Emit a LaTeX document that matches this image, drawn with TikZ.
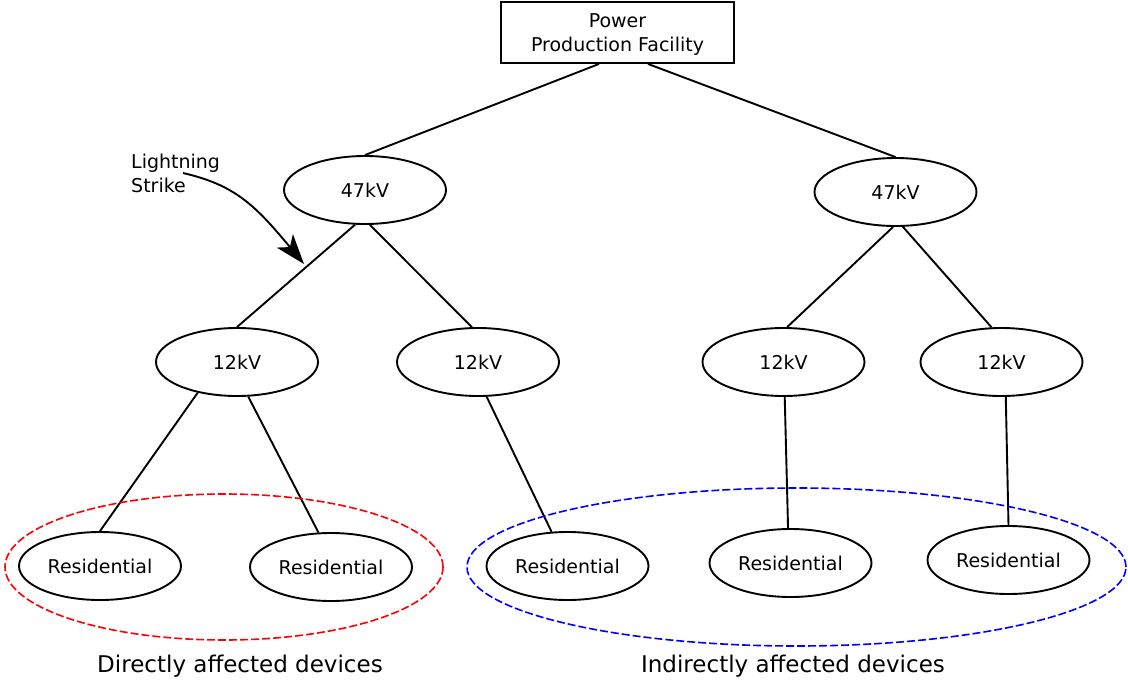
\documentclass[tikz,border=0pt]{standalone}
\usepackage{fontspec}
\setmainfont{DejaVu Sans}
\usetikzlibrary{shapes.geometric,arrows.meta}
\begin{document}
\begin{tikzpicture}[x=1pt,y=-1pt,
  font=\fontsize{19}{24}\selectfont,
  unit/.style={ellipse,draw,line width=1.9pt,minimum width=162pt,minimum height=68pt,inner sep=0pt},
  plant/.style={draw,line width=1.9pt,minimum width=233pt,minimum height=61pt,inner sep=0pt,align=center},
  link/.style={line width=1.9pt},
  group/.style={ellipse,draw,line width=1.6pt,dash pattern=on 8pt off 3pt,inner sep=0pt},
  caption/.style={font=\fontsize{23}{28}\selectfont,anchor=base}]
\useasboundingbox (0,0) rectangle (1128,681);

% generation and transmission
\node[plant] (top) at (617.5,32.5) {\rule{0pt}{17pt}Power\\Production Facility};
\node[unit] (hvL) at (365,190) {47kV};
\node[unit] (hvR) at (895.5,192) {47kV};

% distribution substations
\node[unit] (mvA) at (237,362) {12kV};
\node[unit] (mvB) at (478,362) {12kV};
\node[unit] (mvC) at (783.5,362) {12kV};
\node[unit] (mvD) at (1001.5,362) {12kV};

% customers
\node[unit] (r1) at (100,566) {Residential};
\node[unit] (r2) at (331,567) {Residential};
\node[unit] (r3) at (567.5,566) {Residential};
\node[unit] (r4) at (790.5,563) {Residential};
\node[unit] (r5) at (1008.5,560) {Residential};

% feeders
\draw[link] ([xshift=-18.5pt]top.south) -- (hvL.north);
\draw[link] ([xshift=30.5pt]top.south) -- (hvR.north);
\draw[link] (hvL.-106) -- (mvA.north);
\draw[link] (hvL.-82) -- (mvB.100);
\draw[link] (hvR.-94) -- (mvC.84);
\draw[link] (hvR.-78) -- (mvD.106);
\draw[link] (mvA.-142) -- (r1.north);
\draw[link] (mvA.-72) -- (r2.110);
\draw[link] (mvB.-76) -- (r3.115);
\draw[link] (mvC.-88) -- (r4.94);
\draw[link] (mvD.-83) -- (r5.north);

% affected groups
\node[group,draw=red,minimum width=438pt,minimum height=146pt] (direct) at (224,567) {};
\node[group,draw=blue,minimum width=659pt,minimum height=158pt] (indirect) at (796.5,567) {};
\node[caption] (directlbl) at (240,672) {Directly affected devices};
\node[caption] (indirectlbl) at (793,672) {Indirectly affected devices};

% lightning strike
\node[anchor=north west,inner sep=0pt,align=left] (strike) at (131,154) {Lightning\\Strike};
\coordinate (hit) at (304,264);
\draw[link,-{Stealth[length=30pt,width=21pt,inset=8pt]}] (183,173) .. controls (235,185) and (255,205) .. (hit);
\end{tikzpicture}
\end{document}
